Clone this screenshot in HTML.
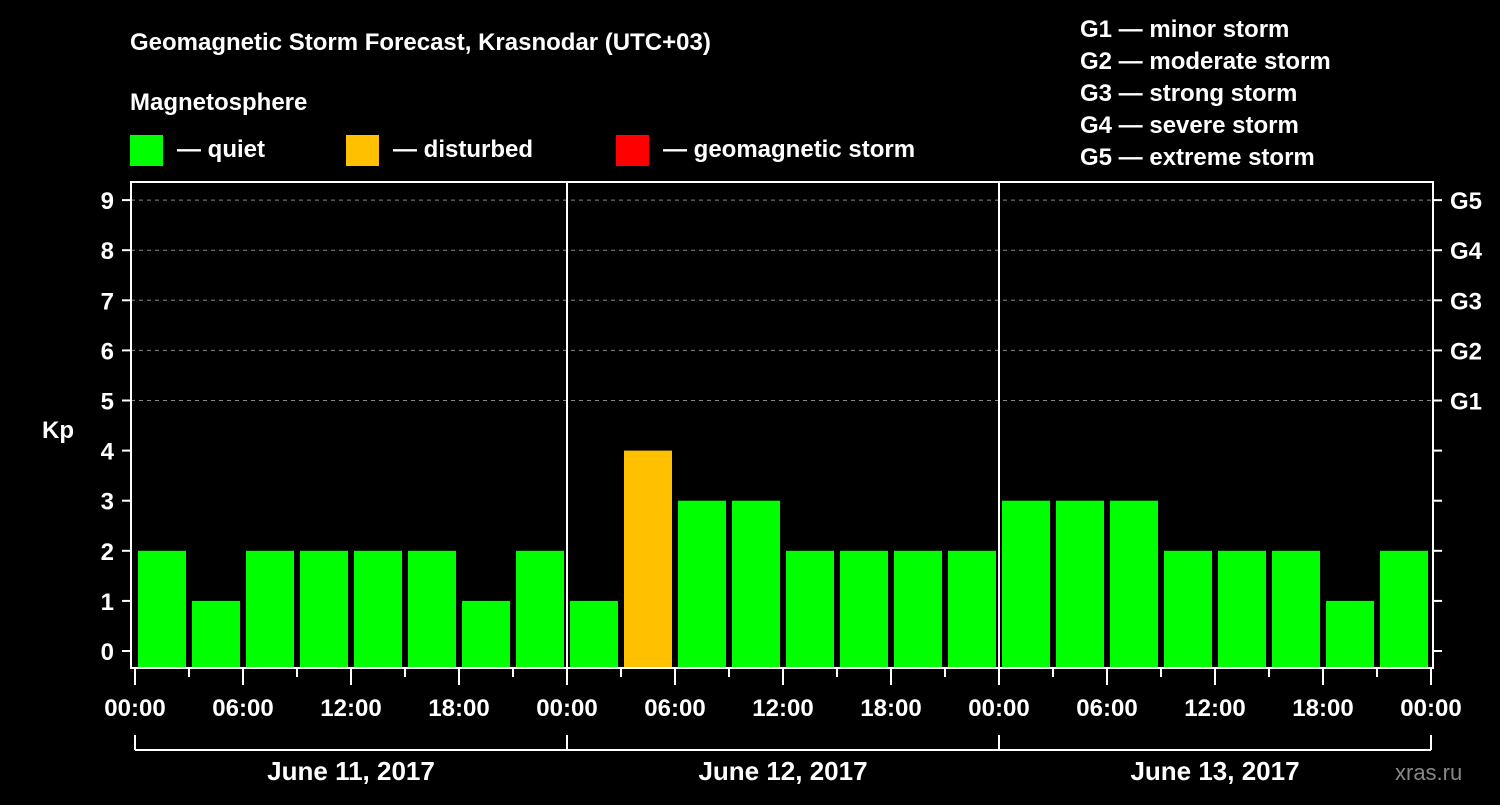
<!DOCTYPE html>
<html><head><meta charset="utf-8"><style>
body{margin:0;background:#000;width:1500px;height:800px;overflow:hidden;font-family:"Liberation Sans",Arial,sans-serif}
text{font-family:"Liberation Sans",Arial,sans-serif;font-weight:bold;fill:#fff}
</style></head><body>
<svg id="chart" width="1500" height="800" xmlns="http://www.w3.org/2000/svg">
<text x="130" y="50" font-size="24">Geomagnetic Storm Forecast, Krasnodar (UTC+03)</text>
<text x="130" y="110" font-size="24">Magnetosphere</text>
<g>
<rect x="130" y="135" width="33" height="31" fill="#00ff00"/><text x="177" y="157" font-size="24">— quiet</text>
<rect x="346" y="135" width="33" height="31" fill="#ffc000"/><text x="393" y="157" font-size="24">— disturbed</text>
<rect x="616" y="135" width="33" height="31" fill="#ff0000"/><text x="663" y="157" font-size="24">— geomagnetic storm</text>
</g>
<g font-size="24">
<text x="1080" y="37">G1 — minor storm</text>
<text x="1080" y="69">G2 — moderate storm</text>
<text x="1080" y="101">G3 — strong storm</text>
<text x="1080" y="133">G4 — severe storm</text>
<text x="1080" y="165">G5 — extreme storm</text>
</g>
<text x="42" y="438" font-size="24">Kp</text>
<text x="1395" y="780" font-size="22" style="fill:#888;font-weight:normal">xras.ru</text>
<g id="plot"></g>
</svg>
<script>
const values = [2,1,2,2,2,2,1,2, 1,4,3,3,2,2,2,2, 3,3,3,2,2,2,1,2];
const kpTicks = [0,1,2,3,4,5,6,7,8,9];
const gLabels = ["G1","G2","G3","G4","G5"];
const timeLabels = ["00:00","06:00","12:00","18:00"];
const dayLabels = ["June 11, 2017","June 12, 2017","June 13, 2017"];
const NS="http://www.w3.org/2000/svg";
const g=document.getElementById('plot');
const L=131,R=1433,T=182,B=668;
const y=v=>651-50.1*v;
const x=h=>135+h*18; // h = hours from start
function mk(t,a){const e=document.createElementNS(NS,t);for(const k in a)e.setAttribute(k,a[k]);g.appendChild(e);return e;}
// grid
for(let v=5;v<=9;v++){const e=mk('line',{x1:L,x2:R,y1:y(v),y2:y(v),stroke:'#888','stroke-dasharray':'4,4'});

}
// bars
values.forEach((v,i)=>{const c=v>=5?'#ff0000':(v>=4?'#ffc000':'#00ff00');
const e=mk('rect',{x:x(i*3)+3,y:y(v),width:48,height:B-y(v),fill:c});

});
// day separators
for(let d=1;d<3;d++){const e=mk('line',{x1:x(d*24),x2:x(d*24),y1:T,y2:B,stroke:'#fff','stroke-width':2});

}
// frame
const fr=mk('rect',{x:L,y:T,width:R-L,height:B-T,fill:'none',stroke:'#fff','stroke-width':2});


// y ticks
kpTicks.forEach(v=>{mk('line',{x1:122,x2:L,y1:y(v),y2:y(v),stroke:'#fff','stroke-width':2});
mk('line',{x1:R,x2:1442,y1:y(v),y2:y(v),stroke:'#fff','stroke-width':2});
const t=mk('text',{x:114,y:y(v)+9,'font-size':24,'text-anchor':'end'});t.textContent=v;

});
gLabels.forEach((s,i)=>{const t=mk('text',{x:1450,y:y(5+i)+9,'font-size':24});t.textContent=s;

});
// x ticks
for(let h=0;h<=72;h+=3){const major=h%6===0;mk('line',{x1:x(h),x2:x(h),y1:B,y2:major?685:677,stroke:'#fff','stroke-width':2});
if(major){const t=mk('text',{x:x(h),y:716,'font-size':24,'text-anchor':'middle'});t.textContent=timeLabels[(h/6)%4];

}}
// day brackets
mk('line',{x1:x(0),x2:x(72),y1:750,y2:750,stroke:'#fff','stroke-width':2});
for(let d=0;d<=3;d++)mk('line',{x1:x(d*24),x2:x(d*24),y1:735,y2:750,stroke:'#fff','stroke-width':2});
dayLabels.forEach((s,d)=>{const t=mk('text',{x:x(d*24+12),y:780,'font-size':26,'text-anchor':'middle'});t.textContent=s;

});
</script>
</body></html>
